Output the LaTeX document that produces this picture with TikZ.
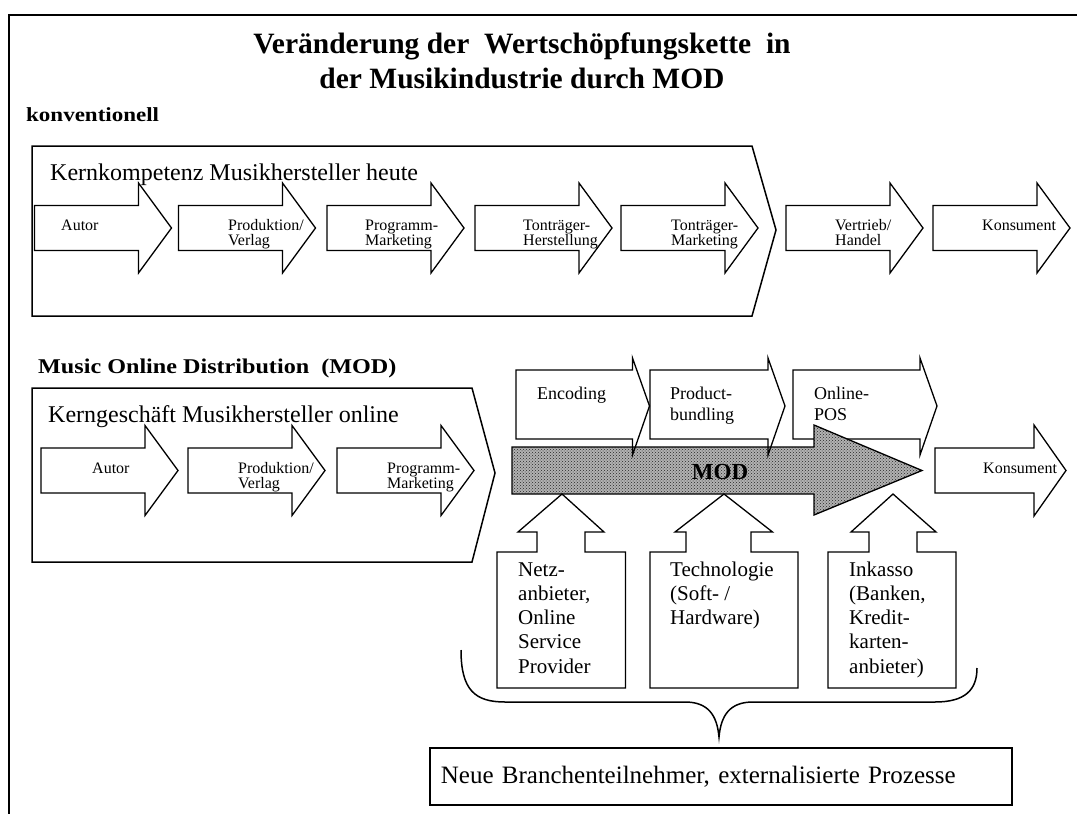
\documentclass[tikz,border=0pt]{standalone}
\usepackage{fontspec}
\setmainfont{Liberation Serif}
\newfontfamily\wideserif[FakeStretch=1.15]{Liberation Serif}
\usepackage{tikz}
\usetikzlibrary{patterns}
\usetikzlibrary{calc}

\begin{document}
\begin{tikzpicture}[x=1pt, y=-1pt,
        procarrow/.style={draw, line width=1.3pt, fill=white},
        lbl/.style={font=\fontsize{16}{15}\selectfont, align=left, inner sep=0pt, anchor=base west},
        boxlbl/.style={font=\fontsize{21}{24.3}\selectfont, align=left, inner sep=0pt, anchor=base west}]
        % Define arrow sizes
        \def \len {137}    % length of a process arrow
        \def \head {33}    % length of the arrow head
        \def \body {22.5}  % half height of the shaft
        \def \wing {45}    % half height of the head
        \def \ya {228}     % middle line of the first chain
        \def \yb {470.5}   % middle line of the second chain

        \useasboundingbox (0,0) rectangle (1077,814);

        % Draw the frame
        \draw[line width=2pt] (9,814) -- (9,15) -- (1077,15);

        % Title and headings
        \node[font=\fontsize{29.5}{35}\selectfont\bfseries, anchor=base, inner sep=0pt] (title1) at (522,53) {Veränderung der~~Wertschöpfungskette~~in};
        \node[font=\fontsize{29.5}{35}\selectfont\bfseries, anchor=base, inner sep=0pt] (title2) at (522,88) {der Musikindustrie durch MOD};
        \node[font=\wideserif\fontsize{20}{24}\selectfont\bfseries, anchor=base west, inner sep=0pt] (konv) at (26,121) {konventionell};
        \node[font=\wideserif\fontsize{21}{24}\selectfont\bfseries, anchor=base west, inner sep=0pt] (mod) at (38,373) {Music Online Distribution~~(MOD)};

        % Draw the two core business chevrons
        \draw[line width=1.5pt] (32,146) -- (752,146) -- (776,230) -- (752,316) -- (32,316) -- cycle;
        \draw[line width=1.5pt] (32,388) -- (472,388) -- (495,473) -- (472,562) -- (32,562) -- cycle;

        % Draw the conventional chain
        \foreach \x in {34.5, 178.5, 327, 475, 621, 786, 933} {
            \path[procarrow] (\x, {\ya-\body}) -- ({\x+\len-\head}, {\ya-\body}) -- ({\x+\len-\head}, {\ya-\wing})
                -- ({\x+\len}, \ya) -- ({\x+\len-\head}, {\ya+\wing}) -- ({\x+\len-\head}, {\ya+\body}) -- (\x, {\ya+\body}) -- cycle;
        }

        % Draw the online chain
        \foreach \x in {41, 188, 337} {
            \path[procarrow] (\x, {\yb-\body}) -- ({\x+\len-\head}, {\yb-\body}) -- ({\x+\len-\head}, {\yb-\wing})
                -- ({\x+\len}, \yb) -- ({\x+\len-\head}, {\yb+\wing}) -- ({\x+\len-\head}, {\yb+\body}) -- (\x, {\yb+\body}) -- cycle;
        }

        % Draw the new steps above the MOD arrow
        \path[procarrow] (793,370) -- (920,370) -- (920,358) -- (937,406) -- (920,455) -- (920,439) -- (793,439) -- cycle;

        % Draw the MOD arrow
        \path[fill=white] (512,447) -- (814,447) -- (814,425) -- (922,470.5) -- (814,515) -- (814,494) -- (512,494) -- cycle;
        \path[fill=black!30] (512,447) -- (814,447) -- (814,425) -- (922,470.5) -- (814,515) -- (814,494) -- (512,494) -- cycle;
        \draw[line width=1.3pt, pattern=crosshatch dots, pattern color=black!85] (512,447) -- (814,447) -- (814,425) -- (922,470.5) -- (814,515) -- (814,494) -- (512,494) -- cycle;

        \foreach \x/\tip in {516/649.5, 650/785} {
            \draw[line width=1.3pt] (\x,370) -- ({\tip-17},370) -- ({\tip-17},358) -- (\tip,406) -- ({\tip-17},455) -- ({\tip-17},439) -- (\x,439) -- cycle;
        }

        % Draw the consumer of the online chain
        \path[procarrow] (935,448) -- (1034,448) -- (1034,425) -- (1066,470.5) -- (1034,516) -- (1034,493) -- (935,493) -- cycle;

        % Draw the suppliers pushing into MOD
        \foreach \cx/\bl/\br/\sl/\sr/\hl/\hr in {562/497/625.5/537/585/518/604, 724/650/798/686/751/675/772.5, 893/828/956/869/917/851/936} {
            \path[procarrow] (\bl,688) -- (\bl,552) -- (\sl,552) -- (\sl,532) -- (\hl,532) -- (\cx,494)
                -- (\hr,532) -- (\sr,532) -- (\sr,552) -- (\br,552) -- (\br,688) -- cycle;
        }

        % Draw the brace
        \draw[line width=1.5pt] (461,650) .. controls (461,690) and (475,702) .. (505,702) -- (685,702)
            .. controls (708,702) and (717,715) .. (719,737) .. controls (721,715) and (730,702) .. (753,702)
            -- (935,702) .. controls (965,702) and (977,690) .. (977,668);

        % Box with the new participants
        \node[draw, line width=1.8pt, anchor=north west, text width=560pt, minimum height=57pt, inner xsep=11pt,
            align=left, font=\fontsize{25}{28}\selectfont] (neu) at (429,747) {Neue Branchenteilnehmer, externalisierte Prozesse};

        % Labels of the chevrons
        \node[font=\fontsize{24}{28}\selectfont, anchor=base west, inner sep=0pt] (kern1) at (50,180) {Kernkompetenz Musikhersteller heute};
        \node[font=\fontsize{24}{28}\selectfont, anchor=base west, inner sep=0pt] (kern2) at (48,422) {Kerngeschäft Musikhersteller online};

        % Labels of the conventional chain (placed at the last baseline)
        \node[lbl] (autor1) at (61,230) {Autor};
        \node[lbl] (prod1) at (228,245) {Produktion\slash\\Verlag};
        \node[lbl] (prog1) at (365,245) {Programm-\\Marketing};
        \node[lbl] (herst1) at (523,245) {Tonträger-\\Herstellung};
        \node[lbl] (mark1) at (671,245) {Tonträger-\\Marketing};
        \node[lbl] (vertr1) at (835,245) {Vertrieb\slash\\Handel};
        \node[lbl] (kons1) at (982,230) {Konsument};

        % Labels of the online chain
        \node[lbl] (autor2) at (92,473) {Autor};
        \node[lbl] (prod2) at (238,488) {Produktion\slash\\Verlag};
        \node[lbl] (prog2) at (387,488) {Programm-\\Marketing};
        \node[lbl] (kons2) at (983,473) {Konsument};

        \node[lbl, font=\fontsize{18}{21}\selectfont] (enc) at (537,399) {Encoding};
        \node[lbl, font=\fontsize{18}{21}\selectfont] (bund) at (670,420) {Product-\\bundling};
        \node[lbl, font=\fontsize{18}{21}\selectfont] (pos) at (814,420) {Online-\\POS};
        \node[font=\fontsize{23}{26}\selectfont\bfseries, inner sep=0pt] (modtxt) at (720,472) {MOD};

        % Labels of the suppliers
        \node[boxlbl] (netz) at (518,673.2) {Netz-\\anbieter,\\Online\\Service\\Provider};
        \node[boxlbl] (tech) at (670,624.6) {Technologie\\(Soft- /\\Hardware)};
        \node[boxlbl] (inkasso) at (849,673.2) {Inkasso\\(Banken,\\Kredit-\\karten-\\anbieter)};
    \end{tikzpicture}
\end{document}
